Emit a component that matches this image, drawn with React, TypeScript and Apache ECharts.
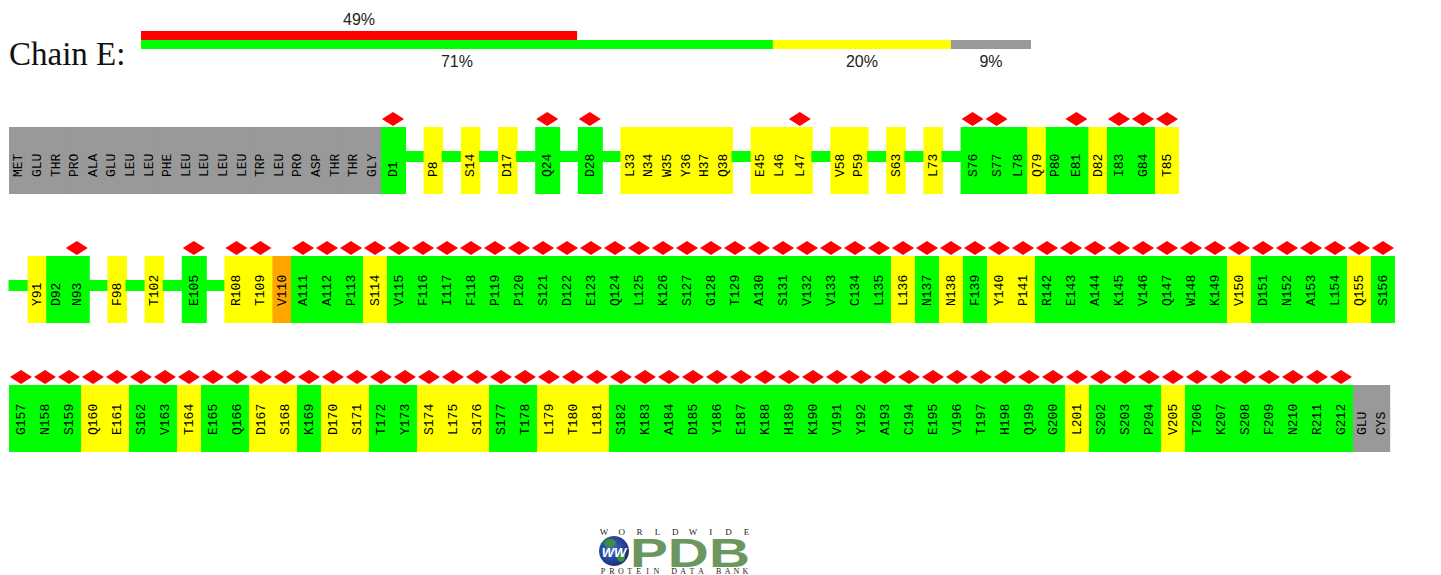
import React, { useEffect, useRef } from "react";
import * as echarts from "echarts";

// ---------------- DATA ----------------
const chainName = "Chain E:";

// summary bar percentages
const outlierPct = 49;
const goodPct = 71;
const fairPct = 20;
const missingPct = 9;

// residues per line ("~" = compressed stretch of residues without issues)
const row1 = [
  "MET", "GLU", "THR", "PRO", "ALA", "GLU", "LEU", "LEU", "PHE", "LEU", "LEU", "LEU", "LEU", "TRP", "LEU", "PRO", "ASP", "THR", "THR", "GLY",
  "D1", "~", "P8", "~", "S14", "~", "D17", "~", "Q24", "~", "D28", "~",
  "L33", "N34", "W35", "Y36", "H37", "Q38", "~", "E45", "L46", "L47", "~",
  "V58", "P59", "~", "S63", "~", "L73", "~",
  "S76", "S77", "L78", "Q79", "P80", "E81", "D82", "I83", "G84", "T85",
];
const row2 = [
  "~", "Y91", "D92", "N93", "~", "F98", "~", "T102", "~", "E105", "~",
  "R108", "T109", "V110", "A111", "A112", "P113", "S114", "V115", "F116", "I117", "F118", "P119", "P120",
  "S121", "D122", "E123", "Q124", "L125", "K126", "S127", "G128", "T129", "A130", "S131", "V132", "V133",
  "C134", "L135", "L136", "N137", "N138", "F139", "Y140", "P141", "R142", "E143", "A144", "K145", "V146",
  "Q147", "W148", "K149", "V150", "D151", "N152", "A153", "L154", "Q155", "S156",
];
const row3 = [
  "G157", "N158", "S159", "Q160", "E161", "S162", "V163", "T164", "E165", "Q166", "D167", "S168", "K169",
  "D170", "S171", "T172", "Y173", "S174", "L175", "S176", "S177", "T178", "L179", "T180", "L181", "S182",
  "K183", "A184", "D185", "Y186", "E187", "K188", "H189", "K190", "V191", "Y192", "A193", "C194", "E195",
  "V196", "T197", "H198", "Q199", "G200", "L201", "S202", "S203", "P204", "V205", "T206", "K207", "S208",
  "F209", "N210", "R211", "G212", "GLU", "CYS",
];

// residues with one outlier criterion (yellow) / two (orange); others modelled are green
const yellowResidues = [
  "P8", "S14", "D17", "L33", "N34", "W35", "Y36", "H37", "Q38", "E45", "L46", "L47", "V58", "P59", "S63", "L73",
  "Q79", "D82", "T85", "Y91", "F98", "T102", "R108", "T109", "S114", "L136", "N138", "Y140", "P141", "V150",
  "Q155", "Q160", "E161", "T164", "D167", "S168", "D170", "S171", "S174", "L175", "S176", "L179", "T180",
  "L181", "L201", "V205",
];
const orangeResidues = ["V110"];

// RSRZ outliers (red diamonds)
const rsrzOutliers = [
  "D1", "Q24", "D28", "L47", "S76", "S77", "E81", "I83", "G84", "T85",
  "N93", "E105", "R108", "T109",
  "A111", "A112", "P113", "S114", "V115", "F116", "I117", "F118", "P119", "P120", "S121", "D122", "E123",
  "Q124", "L125", "K126", "S127", "G128", "T129", "A130", "S131", "V132", "V133", "C134", "L135", "L136",
  "N137", "N138", "F139", "Y140", "P141", "R142", "E143", "A144", "K145", "V146", "Q147", "W148", "K149",
  "V150", "D151", "N152", "A153", "L154", "Q155", "S156",
  "G157", "N158", "S159", "Q160", "E161", "S162", "V163", "T164", "E165", "Q166", "D167", "S168", "K169",
  "D170", "S171", "T172", "Y173", "S174", "L175", "S176", "S177", "T178", "L179", "T180", "L181", "S182",
  "K183", "A184", "D185", "Y186", "E187", "K188", "H189", "K190", "V191", "Y192", "A193", "C194", "E195",
  "V196", "T197", "H198", "Q199", "G200", "L201", "S202", "S203", "P204", "V205", "T206", "K207", "S208",
  "F209", "N210", "R211", "G212",
];

// ---------------- STYLE ----------------
const GREEN = "#00ff00";
const YELLOW = "#ffff00";
const ORANGE = "#ffa500";
const GRAY = "#999999";
const RED = "#ff0000";
const PLAIN_W = 18.6;
const OUTLIER_W = 24;
const BOX_H = 67;

type Cell = { x: number; w: number; row: number; label: string; kind: string; outlier: boolean; last: boolean };

function buildCells(): Cell[] {
  const out = new Set(rsrzOutliers);
  const yel = new Set(yellowResidues);
  const ora = new Set(orangeResidues);
  const cells: Cell[] = [];
  [row1, row2, row3].forEach((r, ri) => {
    let x = 0;
    r.forEach((lab, li) => {
      const last = li === r.length - 1;
      if (lab === "~") {
        cells.push({ x, w: PLAIN_W, row: ri, label: "", kind: "gap", outlier: false, last });
        x += PLAIN_W;
        return;
      }
      const o = out.has(lab);
      const w = o ? OUTLIER_W : PLAIN_W;
      let kind = "good";
      if (/^[A-Z]{3}$/.test(lab)) kind = "missing";
      else if (ora.has(lab)) kind = "poor";
      else if (yel.has(lab)) kind = "fair";
      cells.push({ x, w, row: ri, label: lab, kind, outlier: o, last });
      x += w;
    });
  });
  return cells;
}

const kindColor: Record<string, string> = { good: GREEN, fair: YELLOW, poor: ORANGE, missing: GRAY };

export default function App() {
  const ref = useRef<HTMLDivElement>(null);
  useEffect(() => {
    if (!ref.current) return;
    const chart = echarts.init(ref.current, null, { renderer: "svg" });
    const cells = buildCells();

    const logoGraphics: any[] = [];
    "WORLDWIDE".split("").forEach((ch, i) => {
      logoGraphics.push({
        type: "text", x: 604 + i * 17.8, y: 532,
        style: { text: ch, font: '9px "Liberation Serif"', fill: "#222", align: "center", verticalAlign: "middle" },
      });
    });
    "PROTEIN DATA BANK".split("").forEach((ch, i) => {
      logoGraphics.push({
        type: "text", x: 603 + i * 8.9, y: 571,
        style: { text: ch, font: '8px "Liberation Serif"', fill: "#222", align: "center", verticalAlign: "middle" },
      });
    });
    logoGraphics.push(
      {
        type: "circle", shape: { cx: 614, cy: 551, r: 15 },
        style: {
          fill: new echarts.graphic.RadialGradient(0.4, 0.4, 0.7, [
            { offset: 0, color: "#3d6fd0" },
            { offset: 1, color: "#13256e" },
          ]),
        },
      },
      { type: "ellipse", shape: { cx: 610, cy: 543, rx: 6, ry: 4 }, style: { fill: "#3f8f3a" } },
      { type: "ellipse", shape: { cx: 621, cy: 557, rx: 4, ry: 5 }, style: { fill: "#3f8f3a" } },
      {
        type: "text", x: 614, y: 552,
        style: { text: "WW", font: 'italic bold 13px "Liberation Sans"', fill: "#ffffff", align: "center", verticalAlign: "middle" },
      },
      {
        type: "text", x: 630, y: 553, scaleX: 1.42,
        style: { text: "PDB", font: 'bold 40px "Liberation Sans"', fill: "#6b9660", align: "left", verticalAlign: "middle" },
      }
    );

    const option: any = {
      animation: false,
      backgroundColor: "#ffffff",
      grid: [
        { left: 9, top: 96, width: 1400, height: 387 },
        { left: 141, top: 31, width: 890, height: 18 },
      ],
      xAxis: [
        { type: "value", gridIndex: 0, min: 0, max: 1400, show: false },
        { type: "value", gridIndex: 1, min: 0, max: 100, show: false },
      ],
      yAxis: [
        { type: "category", gridIndex: 0, data: ["line1", "line2", "line3"], inverse: true, show: false },
        { type: "category", gridIndex: 1, data: ["rsrz", "quality"], inverse: true, show: false },
      ],
      graphic: [
        {
          type: "text", x: 9, y: 54,
          style: { text: chainName, font: '33px "Liberation Serif"', fill: "#111", align: "left", verticalAlign: "middle" },
        },
        ...logoGraphics,
      ],
      series: [
        {
          type: "custom",
          xAxisIndex: 0,
          yAxisIndex: 0,
          data: cells.map((c) => [c.x, c.row, c.w]),
          renderItem: (params: any, api: any) => {
            const c = cells[params.dataIndex];
            const p = api.coord([api.value(0), api.value(1)]);
            const w = api.size([api.value(2), 0])[0];
            const top = p[1] - BOX_H / 2;
            const cx = p[0] + w / 2;
            const extra = c.last ? 0 : 1;
            if (c.kind === "gap") {
              return {
                type: "rect",
                shape: { x: p[0] - 0.5, y: top + 24, width: w + 1, height: 11 },
                style: { fill: GREEN },
              };
            }
            const children: any[] = [
              {
                type: "rect",
                shape: { x: p[0], y: top, width: w + extra, height: BOX_H },
                style: { fill: kindColor[c.kind] },
              },
              {
                type: "text",
                x: cx + 0.5,
                y: top + 50,
                rotation: Math.PI / 2,
                style: {
                  text: c.label,
                  font: '13px "Liberation Mono"',
                  fill: "#000",
                  align: "left",
                  verticalAlign: "middle",
                },
              },
            ];
            if (c.outlier) {
              const dy = top - 8;
              children.push({
                type: "polygon",
                shape: { points: [[cx - 11, dy], [cx, dy - 7], [cx + 11, dy], [cx, dy + 7]] },
                style: { fill: RED },
              });
            }
            return { type: "group", children };
          },
        },
        {
          type: "bar", xAxisIndex: 1, yAxisIndex: 1, stack: "all", barWidth: 9,
          data: [outlierPct, "-"], itemStyle: { color: RED },
          label: { show: true, position: "top", distance: 4, formatter: "{c}%", fontSize: 16, color: "#222", fontFamily: "Liberation Sans" },
        },
        {
          type: "bar", xAxisIndex: 1, yAxisIndex: 1, stack: "all", barWidth: 9,
          data: ["-", goodPct], itemStyle: { color: GREEN },
          label: { show: true, position: "bottom", distance: 4, formatter: "{c}%", fontSize: 16, color: "#222", fontFamily: "Liberation Sans" },
        },
        {
          type: "bar", xAxisIndex: 1, yAxisIndex: 1, stack: "all", barWidth: 9,
          data: ["-", fairPct], itemStyle: { color: YELLOW },
          label: { show: true, position: "bottom", distance: 4, formatter: "{c}%", fontSize: 16, color: "#222", fontFamily: "Liberation Sans" },
        },
        {
          type: "bar", xAxisIndex: 1, yAxisIndex: 1, stack: "all", barWidth: 9,
          data: ["-", missingPct], itemStyle: { color: GRAY },
          label: { show: true, position: "bottom", distance: 4, formatter: "{c}%", fontSize: 16, color: "#222", fontFamily: "Liberation Sans" },
        },
      ],
    };
    chart.setOption(option);
    return () => chart.dispose();
  }, []);
  return <div ref={ref} style={{ position: "fixed", left: 0, top: 0, width: 1441, height: 575 }} />;
}
